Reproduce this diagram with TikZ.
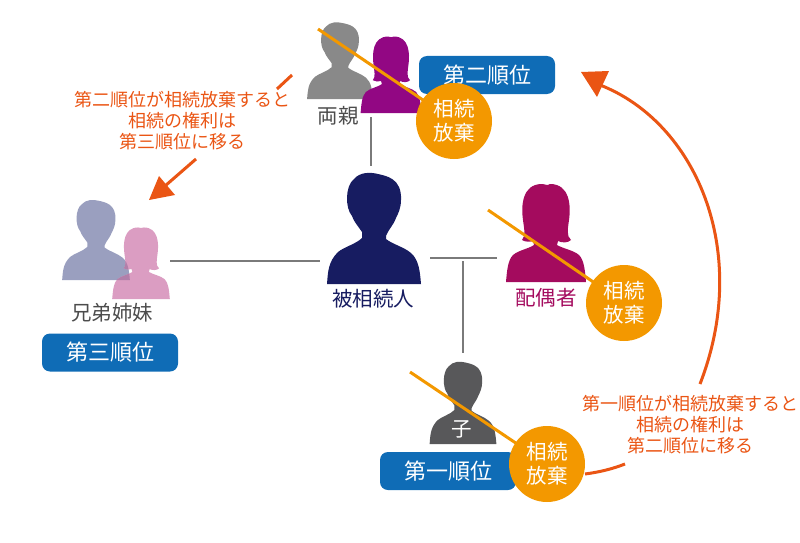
\documentclass[tikz,border=0pt]{standalone}
\usepackage{fontspec}
\setmainfont{Noto Sans CJK JP}
\usetikzlibrary{arrows.meta}
\definecolor{obadge}{HTML}{F39800}
\definecolor{oline}{HTML}{F39800}
\definecolor{bbadge}{HTML}{0F6CB6}
\definecolor{rtext}{HTML}{EA5514}
\definecolor{glink}{HTML}{7A7A7A}
\definecolor{navy}{HTML}{171C61}
\definecolor{crim}{HTML}{A40B5E}
\definecolor{purp}{HTML}{920783}
\definecolor{gman}{HTML}{898989}
\definecolor{dman}{HTML}{58585A}
\definecolor{sibm}{HTML}{9A9FBF}
\definecolor{sibw}{HTML}{DB9DC2}
\definecolor{sibo}{HTML}{B27FA9}
\newcommand{\manpath}{(-47,0) .. controls (-46,-12) and (-46,-22) .. (-36,-32)
 .. controls (-30,-37) and (-18,-40) .. (-12,-46) -- (-12,-52)
 .. controls (-16,-58) and (-20,-62) .. (-22,-68)
 .. controls (-29,-76) and (-29,-98) .. (-20,-105)
 .. controls (-14,-112) and (-4,-112) .. (4,-110)
 .. controls (12,-108) and (28,-106) .. (27,-84)
 .. controls (27,-76) and (24,-70) .. (22,-66)
 .. controls (19,-58) and (14,-54) .. (12,-48) -- (12,-45)
 .. controls (18,-40) and (30,-37) .. (37,-31)
 .. controls (45,-24) and (46,-12) .. (47,0) -- cycle}
\newcommand{\womanpath}{(-40,0) .. controls (-39,-12) and (-38,-22) .. (-33,-27)
 .. controls (-27,-32) and (-18,-33) .. (-12,-37) -- (-13,-41)
 .. controls (-16,-40) and (-21,-40) .. (-24,-42)
 .. controls (-20,-46) and (-22,-54) .. (-23,-62)
 .. controls (-25,-76) and (-24,-98) .. (-4,-98)
 .. controls (-2,-98) and (2,-96) .. (4,-98)
 .. controls (24,-98) and (25,-76) .. (23,-62)
 .. controls (22,-54) and (20,-46) .. (25,-42)
 .. controls (22,-39) and (16,-39) .. (12,-41) -- (11,-37)
 .. controls (18,-33) and (27,-32) .. (33,-27)
 .. controls (38,-22) and (39,-12) .. (40,0) -- cycle}
\tikzset{
  link/.style={draw=glink,line width=1.3pt},
  strike/.style={draw=oline,line width=3pt},
  moveline/.style={draw=rtext,line width=3pt},
  movehead/.style={fill=rtext,draw=none},
  rankbox/.style={fill=bbadge,rounded corners=8pt,text=white,minimum width=136pt,minimum height=38pt,inner sep=0pt,font=\fontsize{22}{26}\selectfont},
  renounce/.style={circle,fill=obadge,text=white,minimum size=76pt,inner sep=0pt,align=center,font=\fontsize{20.5}{24}\selectfont},
  whoname/.style={inner sep=0pt,font=\fontsize{20.5}{24}\selectfont},
  note/.style={inner sep=0pt,align=center,text=rtext,font=\fontsize{18}{21}\selectfont}
}
\begin{document}
\begin{tikzpicture}[x=1pt,y=-1pt]
\useasboundingbox (0,0) rectangle (800,543);
% figures
\fill[gman,shift={(340,99)},x=0.70pt,y=-0.69pt] \manpath;
\fill[purp,shift={(391,113)},x=0.76pt,y=-0.78pt] \womanpath;
\fill[navy,shift={(374,284)},x=1pt,y=-1pt] \manpath;
\fill[crim,shift={(546,282)},x=1pt,y=-1pt] \womanpath;
\fill[dman,shift={(463,444)},x=0.71pt,y=-0.74pt] \manpath;
\fill[sibm,shift={(96,280)},x=0.72pt,y=-0.72pt] \manpath;
\fill[sibw,shift={(141,299)},x=0.72pt,y=-0.73pt] \womanpath;
\begin{scope}
 \clip[shift={(96,280)},x=0.72pt,y=-0.72pt] \manpath;
 \fill[sibo,shift={(141,299)},x=0.72pt,y=-0.73pt] \womanpath;
\end{scope}
% kinship lines
\coordinate (pT) at (371,117); \coordinate (pB) at (371,166);
\coordinate (sL) at (170,261); \coordinate (sR) at (320,261);
\coordinate (mL) at (430,258); \coordinate (mR) at (497,258);
\coordinate (cT) at (463,261); \coordinate (cB) at (463,353);
\draw[link] (pT) -- (pB);
\draw[link] (sL) -- (sR);
\draw[link] (mL) -- (mR);
\draw[link] (cT) -- (cB);
% names
\node[whoname,text=black!70] (parents) at (338,115.5) {両親};
\node[whoname,text=navy] (dec) at (373,298.5) {被相続人};
\node[whoname,text=crim] (spouse) at (546,298) {配偶者};
\node[whoname,text=black!70] (sib) at (112,312.5) {兄弟姉妹};
\node[whoname,text=white] (child) at (462,429) {子};
% rank boxes
\node[rankbox] (r2) at (487,75) {第二順位};
\node[rankbox] (r3) at (110,352.5) {第三順位};
\node[rankbox] (r1) at (448,471) {第一順位};
% strikes and badges
\coordinate (s1) at (318,29); \coordinate (s2) at (488,210); \coordinate (s3) at (410,372);
\coordinate (e1) at (454,121); \coordinate (e2) at (624,303); \coordinate (e3) at (547,464);
\draw[strike] (s1) -- (e1);
\draw[strike] (s2) -- (e2);
\draw[strike] (s3) -- (e3);
\node[renounce] (c1) at (e1) {相続\\放棄};
\node[renounce] (c2) at (e2) {相続\\放棄};
\node[renounce] (c3) at (e3) {相続\\放棄};
% notes
\node[note] (n2) at (182,121) {第二順位が相続放棄すると\\相続の権利は\\第三順位に移る};
\node[note] (n1) at (690,424.5) {第一順位が相続放棄すると\\相続の権利は\\第二順位に移る};
% move arrows
\coordinate (a1) at (292,75); \coordinate (a2) at (277,89);
\coordinate (a3) at (196,159); \coordinate (a4) at (165,186);
\draw[moveline] (a1) -- (a2);
\draw[moveline] (a3) -- (a4);
\fill[movehead] (149,200) -- (159,176) -- (175,195) -- cycle;
\coordinate (b1) at (585,474); \coordinate (b2) at (625,464);
\coordinate (b3) at (700,384); \coordinate (b4) at (600,85);
\draw[moveline] (b1) .. controls (600,472) and (612,469) .. (b2);
\draw[moveline] (b3) .. controls (752,250) and (695,122) .. (b4);
\fill[movehead] (581,72) -- (609,71) -- (597,97) -- cycle;
\end{tikzpicture}
\end{document}
